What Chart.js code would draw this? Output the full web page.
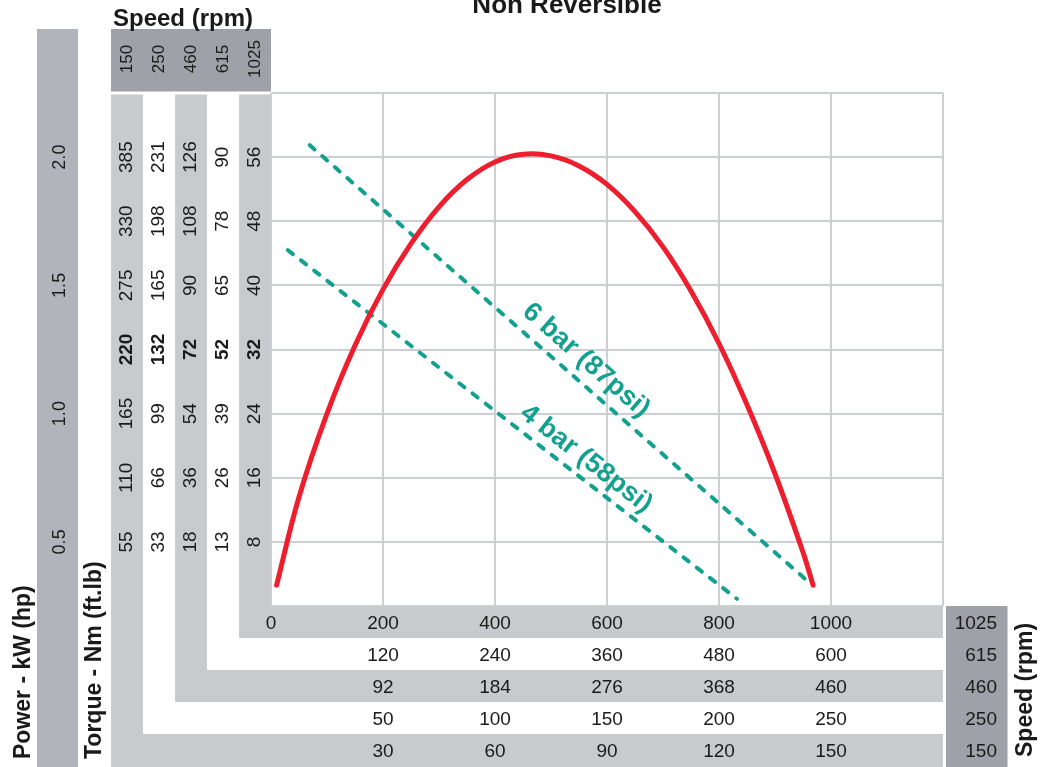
<!DOCTYPE html>
<html>
<head>
<meta charset="utf-8">
<script src="https://cdn.jsdelivr.net/npm/chart.js@4.4.1/dist/chart.umd.min.js"></script>
<style>
html,body{margin:0;padding:0;background:#fff;}
#wrap{width:1041px;height:767px;position:relative;}
</style>
</head>
<body>
<div id="wrap"><canvas id="c"></canvas></div>
<script>
// ---------- data ----------
const chartTitle = 'Non Reversible';
const speedsRpm = ['150', '250', '460', '615', '1025'];

const mainYTicks = [0, 8, 16, 24, 32, 40, 48, 56, 64];
const torque1025 = ['', '8', '16', '24', '32', '40', '48', '56', ''];
const torque615  = ['', '13', '26', '39', '52', '65', '78', '90', ''];
const torque460  = ['', '18', '36', '54', '72', '90', '108', '126', ''];
const torque250  = ['', '33', '66', '99', '132', '165', '198', '231', ''];
const torque150  = ['', '55', '110', '165', '220', '275', '330', '385', ''];

const powerTicks  = [8, 24, 40, 56];
const powerLabels = ['0.5', '1.0', '1.5', '2.0'];

const mainXTicks = [0, 200, 400, 600, 800, 1000, 1200];
const speed1025Labels = ['0', '200', '400', '600', '800', '1000', ''];
const subXTicks = [200, 400, 600, 800, 1000];
const speed615Labels = ['120', '240', '360', '480', '600'];
const speed460Labels = ['92', '184', '276', '368', '460'];
const speed250Labels = ['50', '100', '150', '200', '250'];
const speed150Labels = ['30', '60', '90', '120', '150'];

const curveX = [10, 50, 100, 150, 200, 250, 300, 350, 400, 450, 500, 550, 600, 650, 700, 750, 800, 850, 900, 950, 968];
const curveY = [2.6, 13.6, 24, 32.5, 39.5, 45.2, 49.8, 53.2, 55.4, 56.35, 56.15, 54.9, 52.6, 49.2, 44.8, 39.3, 32.75, 25.1, 16.5, 6.7, 2.6];

const bar6X = [69, 965];
const bar6Y = [57.5, 2.7];
const bar4X = [30, 832];
const bar4Y = [44.4, 0.9];

// ---------- style ----------
const FONT = "'Liberation Sans', Arial, Helvetica, sans-serif";
const RED = '#ed1e2d';
const TEAL = '#12a08f';
const GRID = '#cdd0d3';
const LIGHT = '#c8cacd';
const DARK = '#9ea1a8';
const POWER_BG = '#b1b4ba';
const TEXT = '#1a1a1a';

Chart.defaults.font.family = FONT;

const pts = (xs, ys) => xs.map((x, i) => ({ x: x, y: ys[i] }));

function yCol(labels, ticksArr, weight, width, grid) {
  return {
    type: 'linear', position: 'left', min: 0, max: 64, weight: weight, display: true,
    afterBuildTicks: s => { s.ticks = ticksArr.map(v => ({ value: v })); },
    afterFit: s => { s.width = width; },
    ticks: { display: false, callback: (v, i) => labels[i] },
    grid: grid ? { display: true, color: GRID, lineWidth: 2, drawTicks: false } : { display: false, drawTicks: false },
    border: { display: false }
  };
}
function xRow(ticksArr, labels, weight, grid) {
  return {
    type: 'linear', position: 'bottom', min: 0, max: 1200, weight: weight, display: true,
    afterBuildTicks: s => { s.ticks = ticksArr.map(v => ({ value: v })); },
    afterFit: s => { s.height = 32; },
    ticks: { display: true, autoSkip: false, maxRotation: 0, minRotation: 0, padding: 6.5,
             color: TEXT, font: { family: FONT, size: 19 }, callback: (v, i) => labels[i] },
    grid: grid ? { display: true, color: GRID, lineWidth: 2, drawTicks: false } : { display: false, drawTicks: false },
    border: { display: false }
  };
}

function rotText(ctx, text, x, y, font, align, baseline) {
  ctx.save();
  ctx.translate(x, y);
  ctx.rotate(-Math.PI / 2);
  ctx.font = font;
  ctx.textAlign = align;
  ctx.textBaseline = baseline;
  ctx.fillText(text, 0, 0);
  ctx.restore();
}

const decor = {
  id: 'decor',
  beforeDraw(chart) {
    const { ctx, chartArea: ca, scales: S } = chart;
    ctx.save();
    ctx.fillStyle = '#fff';
    ctx.fillRect(0, 0, chart.width, chart.height);
    const headTop = ca.top - 64;
    ctx.fillStyle = POWER_BG;
    ctx.fillRect(S.yPower.left, headTop, S.yPower.right - S.yPower.left, chart.height - headTop);
    const pairs = [['y', 'x', true], ['y615', 'x615', false], ['y460', 'x460', true], ['y250', 'x250', false], ['y150', 'x150', true]];
    pairs.forEach(([yid, xid, gray]) => {
      if (!gray) return;
      const ys = S[yid], xs = S[xid];
      const bottom = xid === 'x150' ? chart.height : xs.bottom;
      ctx.fillStyle = LIGHT;
      ctx.fillRect(ys.left, ca.top + 1.5, ys.right - ys.left, bottom - ca.top - 1.5);
      ctx.fillRect(ys.left, xs.top, ca.right - ys.left, bottom - xs.top);
    });
    ctx.fillStyle = DARK;
    ctx.fillRect(S.y150.left, headTop, ca.left - S.y150.left, 62.5);
    ctx.fillRect(ca.right + 3, S.x.top, 61.5, chart.height - S.x.top);
    ctx.restore();
  },
  afterDraw(chart) {
    const { ctx, chartArea: ca, scales: S } = chart;
    ctx.save();
    ctx.fillStyle = TEXT;
    ['y', 'y615', 'y460', 'y250', 'y150'].forEach(id => {
      const s = S[id];
      const cx = (s.left + s.right) / 2;
      s.ticks.forEach(t => {
        if (!t.label) return;
        rotText(ctx, t.label, cx, s.getPixelForValue(t.value),
          (t.value === 32 ? 'bold ' : '') + '19px ' + FONT, 'center', 'middle');
      });
    });
    const p = S.yPower;
    p.ticks.forEach(t => {
      if (!t.label) return;
      rotText(ctx, t.label, (p.left + p.right) / 2 + 3, p.getPixelForValue(t.value), '18px ' + FONT, 'center', 'middle');
    });
    ['y150', 'y250', 'y460', 'y615', 'y'].forEach((id, i) => {
      const s = S[id];
      rotText(ctx, speedsRpm[i], (s.left + s.right) / 2, ca.top - 34, '17px ' + FONT, 'center', 'middle');
    });
    ctx.font = '19px ' + FONT;
    ctx.textAlign = 'right';
    ctx.textBaseline = 'middle';
    ['x', 'x615', 'x460', 'x250', 'x150'].forEach((id, i) => {
      const s = S[id];
      ctx.fillText(speedsRpm[4 - i], ca.right + 54, (s.top + s.bottom) / 2 + 1.5);
    });
    ctx.font = 'bold 26px ' + FONT;
    ctx.textAlign = 'center';
    ctx.textBaseline = 'alphabetic';
    ctx.fillText(chartTitle, 567, 13);
    ctx.font = 'bold 24px ' + FONT;
    ctx.textAlign = 'left';
    ctx.fillText('Speed (rpm)', S.y150.left + 2, ca.top - 67);
    rotText(ctx, 'Power - kW (hp)', S.yPower.left - 7, chart.height - 8, 'bold 23px ' + FONT, 'left', 'alphabetic');
    rotText(ctx, 'Torque - Nm (ft.lb)', S.yGap.right - 10.5, chart.height - 8, 'bold 23px ' + FONT, 'left', 'alphabetic');
    rotText(ctx, 'Speed (rpm)', ca.right + 89, chart.height - 10, 'bold 23px ' + FONT, 'left', 'alphabetic');
    const labs = chart.options.plugins.decor.lineLabels;
    labs.forEach(l => {
      const pts2 = chart.data.datasets[l.dataset].data;
      const a = pts2[0], b = pts2[pts2.length - 1];
      const x0 = S.x.getPixelForValue(a.x), y0 = S.y.getPixelForValue(a.y);
      const x1 = S.x.getPixelForValue(b.x), y1 = S.y.getPixelForValue(b.y);
      const ang = Math.atan2(y1 - y0, x1 - x0);
      const t = (l.atX - a.x) / (b.x - a.x);
      const px = x0 + t * (x1 - x0), py = y0 + t * (y1 - y0);
      const cx = px + l.offset * Math.sin(ang), cy = py - l.offset * Math.cos(ang);
      ctx.save();
      ctx.translate(cx, cy);
      ctx.rotate(ang);
      ctx.font = 'bold 27px ' + FONT;
      ctx.fillStyle = TEAL;
      ctx.textAlign = 'center';
      ctx.textBaseline = 'middle';
      ctx.fillText(chart.data.datasets[l.dataset].label, 0, 0);
      ctx.restore();
    });
    ctx.restore();
  }
};

new Chart(document.getElementById('c'), {
  type: 'line',
  data: {
    datasets: [
      { label: 'Torque', data: pts(curveX, curveY), borderColor: RED, borderWidth: 5, pointRadius: 0,
        tension: 0.4, borderCapStyle: 'round', borderJoinStyle: 'round', fill: false,
        xAxisID: 'x', yAxisID: 'y' },
      { label: '6 bar (87psi)', data: pts(bar6X, bar6Y), borderColor: TEAL, borderWidth: 4, pointRadius: 0,
        borderDash: [6.5, 10.2], borderCapStyle: 'round', fill: false, xAxisID: 'x', yAxisID: 'y' },
      { label: '4 bar (58psi)', data: pts(bar4X, bar4Y), borderColor: TEAL, borderWidth: 4, pointRadius: 0,
        borderDash: [6.5, 10.2], borderCapStyle: 'round', fill: false, xAxisID: 'x', yAxisID: 'y' }
    ]
  },
  options: {
    responsive: true,
    maintainAspectRatio: false,
    animation: false,
    events: [],
    layout: { padding: { left: 37, right: 98, top: 93, bottom: 1 } },
    scales: {
      x: xRow(mainXTicks, speed1025Labels, 0, true),
      x615: xRow(subXTicks, speed615Labels, 1, false),
      x460: xRow(subXTicks, speed460Labels, 2, false),
      x250: xRow(subXTicks, speed250Labels, 3, false),
      x150: xRow(subXTicks, speed150Labels, 4, false),
      y: yCol(torque1025, mainYTicks, 0, 32, true),
      y615: yCol(torque615, mainYTicks, 1, 32, false),
      y460: yCol(torque460, mainYTicks, 2, 32, false),
      y250: yCol(torque250, mainYTicks, 3, 32, false),
      y150: yCol(torque150, mainYTicks, 4, 32, false),
      yGap: yCol([], [], 5, 33, false),
      yPower: yCol(powerLabels, powerTicks, 6, 41, false)
    },
    plugins: {
      legend: { display: false },
      tooltip: { enabled: false },
      title: { display: false },
      decor: {
        lineLabels: [
          { dataset: 1, atX: 539, offset: 20 },
          { dataset: 2, atX: 543, offset: 18 }
        ]
      }
    }
  },
  plugins: [decor]
});
</script>
</body>
</html>
